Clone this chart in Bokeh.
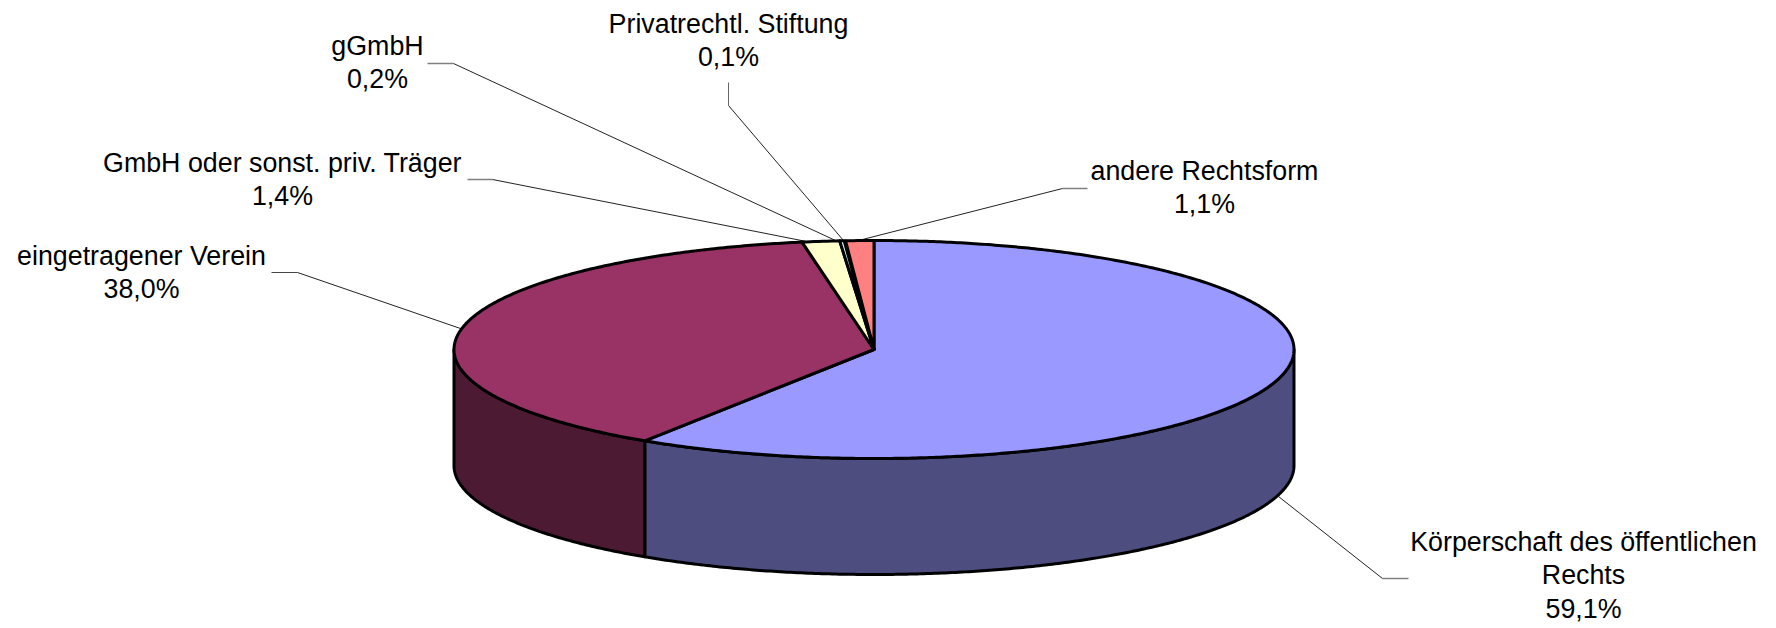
import numpy as np
from bokeh.plotting import figure
from bokeh.embed import file_html
from bokeh.resources import INLINE
from bokeh.core.properties import value

categories = ["Körperschaft des öffentlichen Rechts", "eingetragener Verein",
              "GmbH oder sonst. priv. Träger", "gGmbH", "Privatrechtl. Stiftung", "andere Rechtsform"]
# unrounded shares; printed labels are rounded to one decimal
shares = [59.14, 38.04, 1.44, 0.17, 0.05, 1.08]
share_labels = ["59,1%", "38,0%", "1,4%", "0,2%", "0,1%", "1,1%"]
colors = ["#9999FF", "#993366", "#FFFFCC", "#CCFFFF", "#660066", "#FF8080"]
side_colors = ["#4D4D80", "#4D1A33", "#80806A", "#6A8080", "#330033", "#804040"]
label_lines = [["Körperschaft des öffentlichen", "Rechts"], ["eingetragener Verein"],
               ["GmbH oder sonst. priv. Träger"], ["gGmbH"], ["Privatrechtl. Stiftung"], ["andere Rechtsform"]]

W, H = 1776, 628
p = figure(width=W, height=H, output_backend="svg", toolbar_location=None,
           x_range=(0, W), y_range=(H, 0), min_border=0,
           outline_line_color=None, background_fill_color="white")
p.axis.visible = False
p.grid.visible = False

CX, CY, RX, RY, DEPTH = 873.5, 349, 420, 109, 116
total = sum(shares)
edges = np.concatenate([[0], np.cumsum(shares)]) / total * 2 * np.pi


def arc(a0, a1, dy=0):
    t = np.linspace(a0, a1, max(3, int((a1 - a0) * 120)))
    return CX + RX * np.sin(t), CY - RY * np.cos(t) + dy


# sides (front half only)
for i in range(len(shares)):
    a0, a1 = max(edges[i], np.pi / 2), min(edges[i + 1], 3 * np.pi / 2)
    if a1 <= a0:
        continue
    xt, yt = arc(a0, a1)
    xb, yb = arc(a0, a1, DEPTH)
    p.patch(np.r_[xt, xb[::-1]], np.r_[yt, yb[::-1]], fill_color=side_colors[i],
            line_color="black", line_width=3, line_join="round")

# leader lines: stub by the label, then the run to the slice
leaders = [
    ([1408, 1382], [578, 578], [1382, 1278], [578, 496], "#808080", 1.5),
    ([271, 297], [272, 272], [297, 460], [272, 328], "#444444", 1),
    ([467, 492], [179, 179], [492, 806], [179, 241], "#808080", 1.5),
    ([427, 453], [63, 63], [453, 835], [63, 240], "#808080", 1.5),
    ([728, 728], [82, 105], [728, 843], [105, 240], "#666666", 1),
    ([1087, 1062], [188, 188], [1062, 862], [188, 239], "#808080", 1.5),
]
for sx, sy, dx, dy, stub_color, stub_width in leaders:
    p.line(sx, sy, line_color=stub_color, line_width=stub_width)
    p.line(dx, dy, line_color="#222222", line_width=1)

# top
top_widths = [3, 3, 3, 3, 1.5, 3]
for i in range(len(shares)):
    x, y = arc(edges[i], edges[i + 1])
    p.patch(np.r_[CX, x], np.r_[CY, y], fill_color=colors[i], line_color="black",
            line_width=top_widths[i], line_join="round")

# labels
label_pos = [(1583, 541), (141, 255), (282, 162), (377, 45), (728, 23), (1204, 170)]
LH = 33.5
tx, ty, tt = [], [], []
for i, (lx, ly) in enumerate(label_pos):
    lines = label_lines[i] + [share_labels[i]]
    for k, s in enumerate(lines):
        tx.append(lx)
        ty.append(ly + k * LH)
        tt.append(s)
p.text(tx, ty, text=tt, text_font=value("Liberation Sans"), text_font_size="26.8px",
       text_color="black", text_align="center", text_baseline="middle")

open("out.html", "w").write(file_html(p, INLINE))
